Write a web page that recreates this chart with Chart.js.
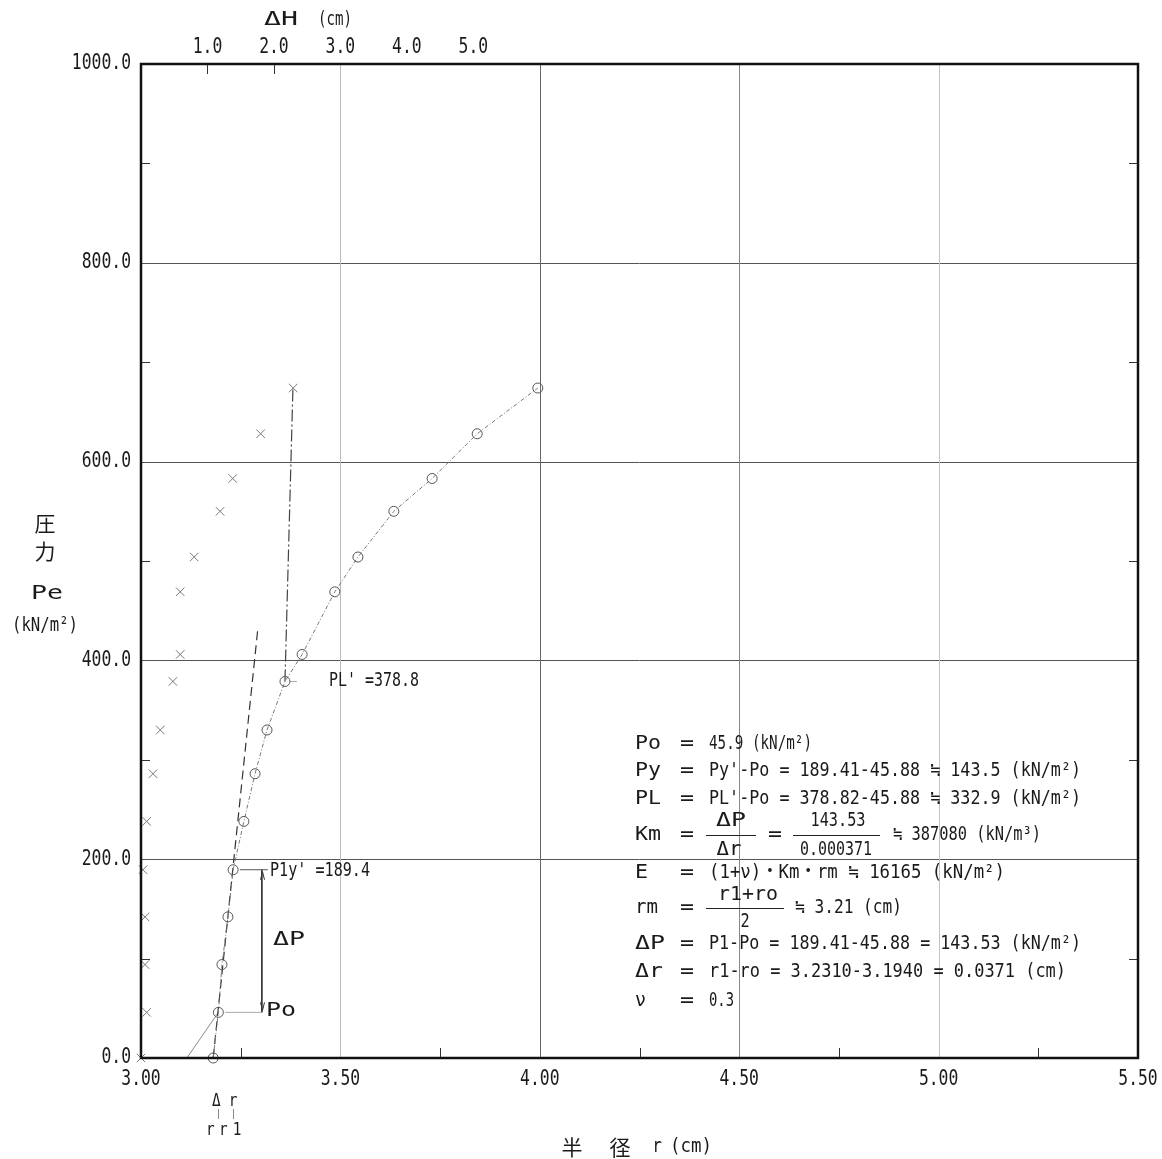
<!DOCTYPE html>
<html><head><meta charset="utf-8">
<script src="https://cdn.jsdelivr.net/npm/chart.js@4/dist/chart.umd.min.js"></script>
<style>html,body{margin:0;padding:0;background:#fff;}canvas{display:block;}</style>
</head><body>
<canvas id="c" width="1162" height="1159"></canvas>
<script>
// ---- data ----
const pressure = [0, 45.9, 94, 142, 189.4, 238, 286, 330, 378.8, 406, 469, 504, 550, 583, 628, 674];
const radius   = [3.181, 3.194, 3.203, 3.218, 3.231, 3.258, 3.286, 3.316, 3.361, 3.404, 3.486, 3.544, 3.634, 3.730, 3.843, 3.995];
const deltaH   = [0, 0.085, 0.06, 0.06, 0.03, 0.085, 0.18, 0.29, 0.48, 0.59, 0.59, 0.80, 1.19, 1.38, 1.80, 2.29];
const rTickValues = [3.0, 3.5, 4.0, 4.5, 5.0, 5.5];
const rTickLabels = ['3.00', '3.50', '4.00', '4.50', '5.00', '5.50'];
const pTickValues = [0, 200, 400, 600, 800, 1000];
const pTickLabels = ['0.0', '200.0', '400.0', '600.0', '800.0', '1000.0'];
const dhTickValues = [1, 2, 3, 4, 5];
const dhTickLabels = ['1.0', '2.0', '3.0', '4.0', '5.0'];
const rMinorTicks = [3.25, 3.75, 4.25, 4.75, 5.25];
const pMinorTicks = [100, 300, 500, 700, 900];
const Po = 45.9, P1y = 189.4, PL = 378.8, r0 = 3.194, r1 = 3.231;
const elasticLineR = [3.181, 3.293], elasticLineP = [0, 432];
const limitLineR = [3.361, 3.381], limitLineP = [378.8, 674];
const baseLineR = [3.115, 3.194], baseLineP = [0, 45.9];
const dpLineR = 3.303;

const pts = (xs, ys) => xs.map((x, i) => ({x: x, y: ys[i]}));

function txt(ctx, s, x, y, o) {
  o = o || {};
  ctx.save();
  ctx.font = o.font || '22px "DejaVu Sans Mono"';
  ctx.fillStyle = o.color || '#1a1a1a';
  ctx.textBaseline = 'middle';
  let w = ctx.measureText(s).width;
  let sx = o.sx || 1;
  if (o.width) sx = o.width / w;
  let align = o.align || 'left';
  let x0 = x;
  if (align === 'center') x0 = x - w * sx / 2;
  else if (align === 'right') x0 = x - w * sx;
  ctx.translate(x0, y);
  ctx.scale(sx, 1);
  ctx.textAlign = 'left';
  ctx.fillText(s, 0, 0);
  ctx.restore();
}

const deco = {
  id: 'deco',
  beforeDatasetsDraw(chart) {
    const ctx = chart.ctx, a = chart.chartArea;
    const xs = chart.scales.x, ys = chart.scales.y;
    ctx.save();
    ctx.lineWidth = 1;
    pTickValues.slice(1, -1).forEach(v => {
      const y = Math.round(ys.getPixelForValue(v)) + 0.5;
      ctx.strokeStyle = '#555';
      ctx.beginPath(); ctx.moveTo(a.left, y); ctx.lineTo(a.right, y); ctx.stroke();
    });
    const vcol = ['#bbb', '#666', '#888', '#c4c4c4'];
    rTickValues.slice(1, -1).forEach((v, i) => {
      const x = Math.round(xs.getPixelForValue(v)) + 0.5;
      ctx.strokeStyle = vcol[i];
      ctx.beginPath(); ctx.moveTo(x, a.top); ctx.lineTo(x, a.bottom); ctx.stroke();
    });
    ctx.restore();
  },
  afterDatasetsDraw(chart) {
    const ctx = chart.ctx, a = chart.chartArea;
    const xs = chart.scales.x, ys = chart.scales.y, x2 = chart.scales.x2;
    ctx.save();
    ctx.strokeStyle = '#333'; ctx.lineWidth = 1;
    pMinorTicks.forEach(v => {
      const y = Math.round(ys.getPixelForValue(v)) + 0.5;
      ctx.beginPath(); ctx.moveTo(a.left, y); ctx.lineTo(a.left + 9, y); ctx.stroke();
      ctx.beginPath(); ctx.moveTo(a.right, y); ctx.lineTo(a.right - 9, y); ctx.stroke();
    });
    rMinorTicks.forEach(v => {
      const x = Math.round(xs.getPixelForValue(v)) + 0.5;
      ctx.beginPath(); ctx.moveTo(x, a.bottom); ctx.lineTo(x, a.bottom - 10); ctx.stroke();
    });
    [1, 2].forEach(v => {
      const x = Math.round(x2.getPixelForValue(v)) + 0.5;
      ctx.beginPath(); ctx.moveTo(x, a.top); ctx.lineTo(x, a.top + 10); ctx.stroke();
    });
    ctx.strokeStyle = '#111'; ctx.lineWidth = 2.5;
    ctx.strokeRect(a.left, a.top, a.right - a.left, a.bottom - a.top);
    // tick labels
    const tf = '21px "DejaVu Sans Mono"';
    pTickValues.forEach((v, i) => txt(ctx, pTickLabels[i], a.left - 10, ys.getPixelForValue(v), {font: tf, align: 'right', sx: 0.78}));
    rTickValues.forEach((v, i) => txt(ctx, rTickLabels[i], xs.getPixelForValue(v), a.bottom + 22, {font: tf, align: 'center', sx: 0.78}));
    dhTickValues.forEach((v, i) => txt(ctx, dhTickLabels[i], x2.getPixelForValue(v), a.top - 16, {font: tf, align: 'center', sx: 0.78}));
    // axis titles
    const cj = '"Noto Sans CJK JP"';
    const mono = '"DejaVu Sans Mono", "Noto Sans CJK JP"';
    txt(ctx, 'ΔH', 281, 20, {font: '20px ' + mono, align: 'center', width: 34});
    txt(ctx, '(cm)', 335, 20, {font: '20px ' + mono, align: 'center', width: 34});
    txt(ctx, '圧', 45, 523, {font: '21px ' + cj, align: 'center'});
    txt(ctx, '力', 45, 551, {font: '21px ' + cj, align: 'center'});
    txt(ctx, 'Pe', 47, 594, {font: '20px ' + mono, align: 'center', width: 32});
    txt(ctx, '(kN/m²)', 45, 626, {font: '20px ' + mono, align: 'center', width: 66});
    txt(ctx, '半', 572, 1147, {font: '21px ' + cj, align: 'center'});
    txt(ctx, '径', 620, 1147, {font: '21px ' + cj, align: 'center'});
    txt(ctx, 'r', 657, 1147, {font: '20px ' + mono, align: 'center', sx: 0.8});
    txt(ctx, '(cm)', 691, 1147, {font: '20px ' + mono, align: 'center', width: 42});
    // Δr marker under axis
    const xr0 = xs.getPixelForValue(r0), xr1 = xs.getPixelForValue(r1);
    txt(ctx, 'Δ', xr0 - 2, 1101, {font: '18px ' + mono, align: 'center', sx: 0.8});
    txt(ctx, 'r', xr1, 1101, {font: '18px ' + mono, align: 'center', sx: 0.8});
    ctx.strokeStyle = '#888'; ctx.lineWidth = 1;
    [xr0, xr1].forEach(x => { ctx.beginPath(); ctx.moveTo(Math.round(x) + 0.5, 1109); ctx.lineTo(Math.round(x) + 0.5, 1119); ctx.stroke(); });
    txt(ctx, 'r', xr0 - 8, 1130, {font: '18px ' + mono, align: 'center', sx: 0.8});
    txt(ctx, 'r', xr0 + 5, 1130, {font: '18px ' + mono, align: 'center', sx: 0.8});
    txt(ctx, '1', xr1 + 4, 1130, {font: '18px ' + mono, align: 'center', sx: 0.8});
    // arrows on ΔP line
    const xd = Math.round(xs.getPixelForValue(dpLineR)) + 0.5;
    const yt = ys.getPixelForValue(P1y), yb = ys.getPixelForValue(Po);
    ctx.strokeStyle = '#333';
    ctx.beginPath(); ctx.moveTo(xd - 2, yt + 10); ctx.lineTo(xd, yt + 2); ctx.lineTo(xd + 2, yt + 10); ctx.stroke();
    ctx.beginPath(); ctx.moveTo(xd - 2, yb - 10); ctx.lineTo(xd, yb - 2); ctx.lineTo(xd + 2, yb - 10); ctx.stroke();
    // point annotations
    const af = '19px ' + mono;
    txt(ctx, "P1y' =189.4", 270, ys.getPixelForValue(P1y) + 1, {font: af, width: 100});
    txt(ctx, 'ΔP', 273, ys.getPixelForValue((P1y + Po) / 2 + 0.5), {font: af, width: 32});
    txt(ctx, 'Po', 266, ys.getPixelForValue(Po) - 1, {font: af, width: 30});
    txt(ctx, "PL' =378.8", 329, ys.getPixelForValue(PL), {font: af, width: 90});
    // formula block
    const ff = '19px ' + mono;
    const L = 635, E = 687, C = 709;
    const rows = [
      ['Po', 744, '45.9 (kN/m²)', 103],
      ['Py', 771, "Py'-Po = 189.41-45.88 ≒ 143.5 (kN/m²)", 372],
      ['PL', 799, "PL'-Po = 378.82-45.88 ≒ 332.9 (kN/m²)", 372],
      ['Km', 835, null, 0],
      ['E', 873, '(1+ν)・Km・rm ≒ 16165 (kN/m²)', 296],
      ['rm', 908, null, 0],
      ['ΔP', 944, 'P1-Po = 189.41-45.88 = 143.53 (kN/m²)', 372],
      ['Δr', 972, 'r1-ro = 3.2310-3.1940 = 0.0371 (cm)', 357],
      ['ν', 1001, '0.3', 25]
    ];
    const lw = {Po: 26, Py: 26, PL: 26, Km: 26, E: 13, rm: 23, 'ΔP': 30, 'Δr': 28, 'ν': 11};
    rows.forEach(r => {
      txt(ctx, r[0], L, r[1], {font: ff, width: lw[r[0]]});
      txt(ctx, '=', E, r[1], {font: ff, align: 'center', width: 14});
      if (r[2]) txt(ctx, r[2], C, r[1], {font: ff, width: r[3]});
    });
    ctx.strokeStyle = '#222'; ctx.lineWidth = 1;
    ctx.beginPath(); ctx.moveTo(706, 835.5); ctx.lineTo(756, 835.5); ctx.stroke();
    ctx.beginPath(); ctx.moveTo(793, 835.5); ctx.lineTo(880, 835.5); ctx.stroke();
    txt(ctx, 'ΔP', 731, 821, {font: ff, align: 'center', width: 30});
    txt(ctx, 'Δr', 729, 850, {font: ff, align: 'center', width: 25});
    txt(ctx, '=', 775, 835, {font: ff, align: 'center', width: 14});
    txt(ctx, '143.53', 838, 821, {font: ff, align: 'center', width: 55});
    txt(ctx, '0.000371', 836, 850, {font: ff, align: 'center', width: 72});
    txt(ctx, '≒ 387080 (kN/m³)', 893, 835, {font: ff, width: 148});
    ctx.beginPath(); ctx.moveTo(706, 908.5); ctx.lineTo(784, 908.5); ctx.stroke();
    txt(ctx, 'r1+ro', 748, 895, {font: ff, align: 'center', width: 60});
    txt(ctx, '2', 745, 922, {font: ff, align: 'center', sx: 0.8});
    txt(ctx, '≒ 3.21 (cm)', 795, 908, {font: ff, width: 107});
    ctx.restore();
  }
};

new Chart(document.getElementById('c'), {
  type: 'scatter',
  data: {
    datasets: [
      { label: 'curve', data: pts(radius, pressure), showLine: true, borderColor: '#777', borderWidth: 1,
        borderDash: [4, 2, 1, 2], pointStyle: 'circle', pointRadius: 5, pointBorderColor: '#555',
        pointBackgroundColor: 'rgba(0,0,0,0)', pointBorderWidth: 1, clip: false, xAxisID: 'x' },
      { label: 'creep', data: pts(deltaH, pressure), showLine: false, pointStyle: 'crossRot', pointRadius: 6,
        pointBorderColor: '#777', pointBorderWidth: 1, clip: false, xAxisID: 'x2' },
      { label: 'elastic', data: pts(elasticLineR, elasticLineP), showLine: true, borderColor: '#333',
        borderWidth: 1.2, borderDash: [9, 5], pointRadius: 0, xAxisID: 'x' },
      { label: 'limit', data: pts(limitLineR, limitLineP), showLine: true, borderColor: '#444',
        borderWidth: 1.2, borderDash: [12, 3, 2, 3], pointRadius: 0, xAxisID: 'x' },
      { label: 'base', data: pts(baseLineR, baseLineP), showLine: true, borderColor: '#888',
        borderWidth: 1, pointRadius: 0, xAxisID: 'x' },
      { label: 'p1y lead', data: pts([3.248, 3.318], [P1y, P1y]), showLine: true, borderColor: '#555',
        borderWidth: 1, pointRadius: 0, xAxisID: 'x' },
      { label: 'po lead', data: pts([3.211, dpLineR], [Po, Po]), showLine: true, borderColor: '#aaa',
        borderWidth: 1, pointRadius: 0, xAxisID: 'x' },
      { label: 'dp', data: pts([dpLineR, dpLineR], [P1y, Po]), showLine: true, borderColor: '#333',
        borderWidth: 1, pointRadius: 0, xAxisID: 'x' },
      { label: 'pl lead', data: pts([3.374, 3.391], [PL, PL]), showLine: true, borderColor: '#aaa',
        borderWidth: 1, pointRadius: 0, xAxisID: 'x' }
    ]
  },
  options: {
    responsive: false, animation: false, devicePixelRatio: 1,
    layout: { padding: { left: 141, right: 24, top: 64, bottom: 101 } },
    plugins: { legend: { display: false }, tooltip: { enabled: false } },
    scales: {
      x: { type: 'linear', min: 3.0, max: 5.5, display: false },
      x2: { type: 'linear', min: 0, max: 15, display: false },
      y: { type: 'linear', min: 0, max: 1000, display: false }
    }
  },
  plugins: [deco]
});
</script>
</body></html>
